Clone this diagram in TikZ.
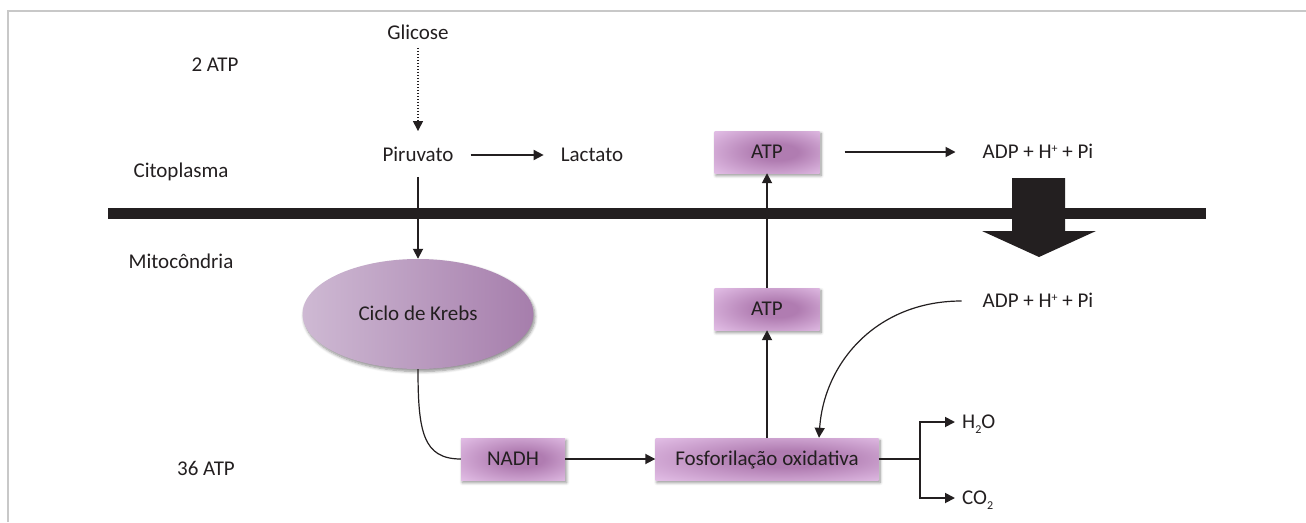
\documentclass[tikz,border=0pt]{standalone}
\usepackage{fontspec}
\setmainfont{Carlito}
\usetikzlibrary{arrows.meta,shapes.geometric,shadows.blur,calc}

\definecolor{ink}{HTML}{231F20}
\definecolor{framegray}{HTML}{C8C8C8}
\definecolor{boxlight}{HTML}{E8C6EC}
\definecolor{boxdark}{HTML}{B07CB1}
\definecolor{ovleft}{HTML}{CEB9D3}
\definecolor{ovright}{HTML}{A67EAC}

\pgfdeclareradialshading{boxglow}{\pgfpoint{6bp}{0bp}}{%
  color(0bp)=(boxdark); color(10bp)=(boxdark);
  color(40bp)=(boxlight); color(50bp)=(boxlight)}

\newcommand{\lblfont}{\fontsize{21}{25}\selectfont}
\newcommand{\supplus}{\raisebox{0.6ex}{\fontsize{12}{12}\selectfont +}}
\newcommand{\subtwo}{\raisebox{-0.45ex}{\fontsize{12}{12}\selectfont 2}}

\tikzset{
  lbl/.style={inner sep=0pt, text height=13.5pt, text depth=0pt,
    font=\lblfont, text=ink},
  softshadow/.style={blur shadow={shadow xshift=1.5pt, shadow yshift=-2.5pt,
    shadow blur radius=3pt, shadow opacity=45, shadow blur steps=6}},
  stagebox/.style={lbl, rectangle, shading=boxglow, minimum height=42pt,
    softshadow},
  cyclebox/.style={lbl, ellipse, minimum width=231pt, minimum height=110pt,
    left color=ovleft, right color=ovright, softshadow},
  arr/.style={draw=ink, line width=1.8pt,
    -{Triangle[length=10pt,width=10pt]}},
  dotarr/.style={draw=ink, line width=1.4pt, dash pattern=on 1.4pt off 1.6pt,
    -{Triangle[length=10pt,width=10pt]}},
  thinline/.style={draw=ink, line width=1.2pt},
  thinarr/.style={draw=ink, line width=1.2pt,
    -{Triangle[length=10pt,width=10pt]}},
}

\begin{document}
\begin{tikzpicture}[x=1pt, y=-1pt]
  \useasboundingbox (0,0) rectangle (1306,522);

  % frame
  \draw[framegray, line width=2pt] (8,522) -- (8,11) -- (1306,11);

  % membrane between cytoplasm and mitochondrion
  \fill[ink] (108,208) rectangle (1206,219);

  % large arrow crossing the membrane
  \fill[ink] (1012,178) -- (1065,178) -- (1065,231) -- (1096,231)
    -- (1039,257) -- (982,231) -- (1012,231) -- cycle;

  % side labels
  \node[lbl] (twoatp)  at (215,65)  {2 ATP};
  \node[lbl] (cito)    at (181,171) {Citoplasma};
  \node[lbl] (mito)    at (181,262) {Mitocôndria};
  \node[lbl] (sixatp)  at (206,469) {36 ATP};

  % pathway
  \node[lbl] (glic) at (418,33)  {Glicose};
  \node[lbl] (piru) at (418,155) {Piruvato};
  \node[lbl] (lact) at (592,155) {Lactato};
  \node[stagebox, minimum width=105pt] (atpT) at (767,152) {ATP};
  \node[lbl] (adpT) at (1038,152) {ADP + H\supplus{} + Pi};
  \node[cyclebox] (krebs) at (418,314) {Ciclo de Krebs};
  \node[stagebox, minimum width=105pt] (atpB) at (767,309) {ATP};
  \node[lbl] (adpB) at (1038,301) {ADP + H\supplus{} + Pi};
  \node[stagebox, minimum width=104pt] (nadh) at (513,459) {NADH};
  \node[stagebox, minimum width=223pt] (fosf) at (767,459) {Fosforilação oxidativa};
  \node[lbl, anchor=west] (h2o) at (962,422) {H\subtwo O};
  \node[lbl, anchor=west] (co2) at (962,498) {CO\subtwo};

  % connectors
  \draw[dotarr, shorten <=8pt, shorten >=17pt] (glic.south) -- (piru.north);
  \draw[arr, shorten <=17pt, shorten >=17pt] (piru.east) -- (lact.west);
  \draw[arr, shorten <=15pt] (piru.south) -- (krebs.north);
  \draw[arr] (atpB.north) -- (atpT.south);
  \draw[arr] (fosf.north) -- (atpB.south);
  \draw[arr, shorten <=25pt, shorten >=27pt] (atpT.east) -- (adpT.west);
  \draw[arr] (nadh.east) -- (fosf.west);
  \draw[thinline] (krebs.south) .. controls +(0,62) and +(-38,0) .. (nadh.west);

  \coordinate (adpin) at ([xshift=-21pt]adpB.west);
  \coordinate (fosfin) at ([xshift=52pt]fosf.north);
  \draw[thinarr] (adpin) .. controls +(-85,0) and +(5,-75) .. (fosfin);

  \draw[arr, shorten >=7pt] (fosf.east) -- ++(41,0) coordinate (fork) |- (h2o.west);
  \draw[arr, shorten >=7pt] (fork) |- (co2.west);
\end{tikzpicture}
\end{document}
